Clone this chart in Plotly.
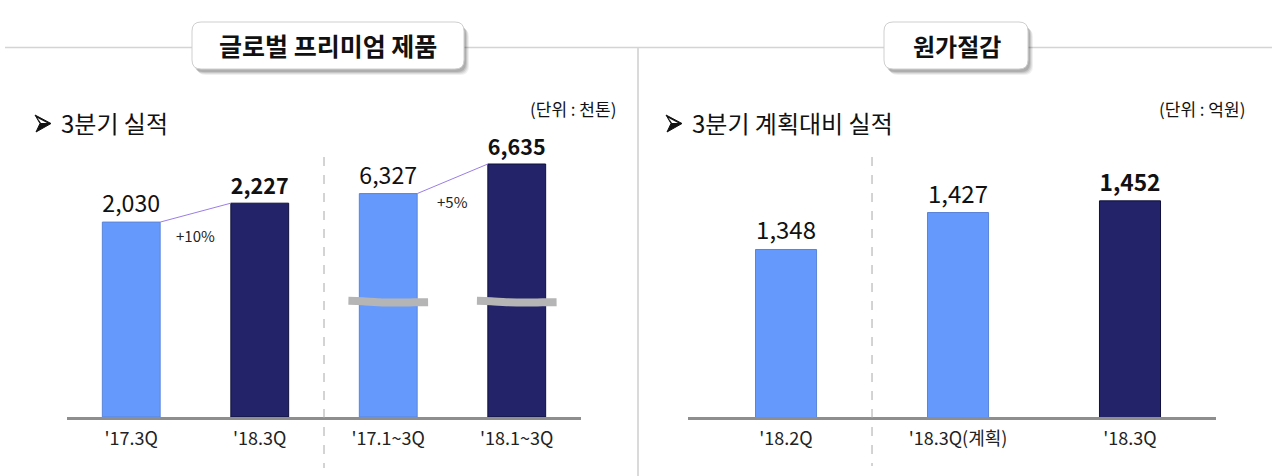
import plotly.graph_objects as go

# ---- data ---------------------------------------------------------------
premium_labels = ["'17.3Q", "'18.3Q", "'17.1~3Q", "'18.1~3Q"]
premium_values = [2030, 2227, 6327, 6635]          # 천톤
premium_is_cumulative = [False, False, True, True]  # drawn on the broken part of the axis
premium_is_current = [False, True, False, True]

cost_labels = ["'18.2Q", "'18.3Q(계획)", "'18.3Q"]
cost_values = [1348, 1427, 1452]                   # 억원
cost_is_current = [False, False, True]

# ---- styling / layout constants -----------------------------------------
W, H = 1280, 476
FONT = "Noto Sans CJK KR, Noto Sans, DejaVu Sans, sans-serif"
LIGHT = "#6699fc"
LIGHT_EDGE = "#5a84d8"
DARK = "#232369"
DARK_EDGE = "#10103a"
AXIS_GREY = "#8e8e8e"
BREAK_GAP = 4000      # amount removed from the cumulative bars by the axis break
BREAK_LEVEL = 1200    # where the break mark is drawn on the shortened bars


def px(x):
    return x / W


def py(y):
    return 1 - y / H


def rounded_rect(x0, y0, x1, y1, r):
    """SVG path (paper coords) of a rounded rectangle given in pixels."""
    rx, ry = r / W, r / H
    X0, X1 = px(x0), px(x1)
    Y0, Y1 = py(y0), py(y1)  # Y0 top, Y1 bottom
    return (
        f"M{X0 + rx},{Y0} L{X1 - rx},{Y0} Q{X1},{Y0} {X1},{Y0 - ry} "
        f"L{X1},{Y1 + ry} Q{X1},{Y1} {X1 - rx},{Y1} "
        f"L{X0 + rx},{Y1} Q{X0},{Y1} {X0},{Y1 + ry} "
        f"L{X0},{Y0 - ry} Q{X0},{Y0} {X0 + rx},{Y0} Z"
    )


def poly(points):
    """Closed SVG path (paper coords) through pixel points."""
    return "M" + " L".join(f"{px(x)},{py(y)}" for x, y in points) + " Z"


fig = go.Figure()

# ---- left panel: 글로벌 프리미엄 제품 ------------------------------------
p_x = list(range(len(premium_values)))
p_shown = [v - BREAK_GAP if cum else v for v, cum in zip(premium_values, premium_is_cumulative)]
p_text = [f"<b>{v:,}</b>" if cur else f"{v:,}" for v, cur in zip(premium_values, premium_is_current)]
P_WIDTH = 0.45

fig.add_trace(go.Bar(
    x=p_x, y=p_shown, width=P_WIDTH,
    marker=dict(color=[DARK if c else LIGHT for c in premium_is_current],
                line=dict(color=[DARK_EDGE if c else LIGHT_EDGE for c in premium_is_current], width=1)),
    text=p_text, textposition="outside", cliponaxis=False,
    textfont=dict(family=FONT, size=24, color="#111111"),
    xaxis="x", yaxis="y", showlegend=False, hoverinfo="skip",
))

# growth connectors between the pairs of bars
for a, b in [(0, 1), (2, 3)]:
    fig.add_trace(go.Scatter(
        x=[p_x[a] + P_WIDTH / 2, p_x[b] - P_WIDTH / 2], y=[p_shown[a], p_shown[b]],
        mode="lines", line=dict(color="#9b7ee6", width=1),
        xaxis="x", yaxis="y", showlegend=False, hoverinfo="skip",
    ))
    growth = round((premium_values[b] / premium_values[a] - 1) * 100)
    fig.add_annotation(
        x=(p_x[a] + p_x[b]) / 2, y=(p_shown[a] + p_shown[b]) / 2, xref="x", yref="y",
        text=f"+{growth}%", showarrow=False, yshift=-23,
        font=dict(family=FONT, size=15, color="#222222"),
    )

# axis-break marks across the shortened bars
wave_dx = [-0.31, -0.2, -0.08, 0.08, 0.2, 0.31]
wave_dy = [10, 6, -4, -8, -6, -4]
for i, cum in enumerate(premium_is_cumulative):
    if cum:
        fig.add_trace(go.Scatter(
            x=[p_x[i] + d for d in wave_dx], y=[BREAK_LEVEL + d for d in wave_dy],
            mode="lines", line=dict(color="#b5b5b5", width=8, shape="spline"),
            xaxis="x", yaxis="y", showlegend=False, hoverinfo="skip",
        ))

# ---- right panel: 원가절감 ------------------------------------------------
c_x = list(range(len(cost_values)))
c_text = [f"<b>{v:,}</b>" if cur else f"{v:,}" for v, cur in zip(cost_values, cost_is_current)]
fig.add_trace(go.Bar(
    x=c_x, y=cost_values, width=0.355,
    marker=dict(color=[DARK if c else LIGHT for c in cost_is_current],
                line=dict(color=[DARK_EDGE if c else LIGHT_EDGE for c in cost_is_current], width=1)),
    text=c_text, textposition="outside", cliponaxis=False,
    textfont=dict(family=FONT, size=24, color="#111111"),
    xaxis="x2", yaxis="y2", showlegend=False, hoverinfo="skip",
))

tick_font = dict(family=FONT, size=18, color="#222222")
fig.update_layout(
    width=W, height=H,
    margin=dict(l=0, r=0, t=0, b=0),
    paper_bgcolor="white", plot_bgcolor="rgba(0,0,0,0)",
    xaxis=dict(domain=[px(67), px(581)], range=[-0.5, 3.5],
               tickvals=p_x, ticktext=premium_labels, tickfont=tick_font,
               showline=True, linecolor=AXIS_GREY, linewidth=3,
               showgrid=False, zeroline=False, ticks="", ticklabelstandoff=3),
    yaxis=dict(domain=[py(417), py(140)], range=[0, 2885], visible=False),
    xaxis2=dict(domain=[px(688), px(1216)], range=[-0.57, 2.5], anchor="y2",
                tickvals=c_x, ticktext=cost_labels, tickfont=tick_font,
                showline=True, linecolor=AXIS_GREY, linewidth=3,
                showgrid=False, zeroline=False, ticks="", ticklabelstandoff=3),
    yaxis2=dict(domain=[py(417), py(140)], range=[990, 1582], visible=False, anchor="x2"),
)

# ---- frame, separators and heading boxes -------------------------------
shapes = [
    dict(type="line", xref="paper", yref="paper", x0=px(5), x1=px(1272), y0=py(47.5), y1=py(47.5),
         line=dict(color="#d4d4d4", width=1.5)),
    dict(type="line", xref="paper", yref="paper", x0=px(638), x1=px(638), y0=py(48), y1=0,
         line=dict(color="#dadada", width=2)),
    dict(type="line", xref="x", yref="paper", x0=1.5, x1=1.5, y0=py(157), y1=py(468),
         line=dict(color="#a8a8a8", width=1, dash="dash")),
    dict(type="line", xref="x2", yref="paper", x0=0.5, x1=0.5, y0=py(157), y1=py(466),
         line=dict(color="#a8a8a8", width=1, dash="dash")),
]
for (bx0, bx1) in [(192, 464), (884, 1028)]:
    # soft drop shadow built from a few offset layers
    for off, alpha in [(6, 0.06), (5, 0.08), (4, 0.10), (3, 0.12)]:
        shapes.append(dict(type="path", xref="paper", yref="paper",
                           path=rounded_rect(bx0 + off - 1, 22 + off, bx1 + off - 1, 69 + off, 9),
                           fillcolor=f"rgba(0,0,0,{alpha})", line=dict(width=0)))
    shapes.append(dict(type="path", xref="paper", yref="paper",
                       path=rounded_rect(bx0, 22, bx1, 69, 9),
                       fillcolor="white", line=dict(color="#cfcfcf", width=1)))

# arrowhead bullets in front of the sub-titles
for ax in (35, 666):
    shapes.append(dict(type="path", xref="paper", yref="paper",
                       path=poly([(ax, 115), (ax + 16, 123.5), (ax + 1, 132), (ax + 5, 123.5)]),
                       fillcolor="#111111", line=dict(color="#111111", width=1)))
    shapes.append(dict(type="path", xref="paper", yref="paper",
                       path=poly([(ax + 2.5, 118), (ax + 12, 123), (ax + 6, 123)]),
                       fillcolor="#ffffff", line=dict(width=0)))
fig.update_layout(shapes=shapes)

texts = [
    (px(328), py(45), "<b>글로벌 프리미엄 제품</b>", 25, "center"),
    (px(957), py(45), "<b>원가절감</b>", 24, "center"),
    (px(59), py(123), "3분기 실적", 24, "left"),
    (px(690), py(123), "3분기 계획대비 실적", 24, "left"),
    (px(618), py(109), "(단위 : 천톤)", 17, "right"),
    (px(1247), py(109), "(단위 : 억원)", 17, "right"),
]
for x, y, t, size, anchor in texts:
    fig.add_annotation(x=x, y=y, xref="paper", yref="paper", text=t, showarrow=False,
                       xanchor=anchor, yanchor="middle",
                       font=dict(family=FONT, size=size, color="#111111"))

fig.write_html("out.html")
